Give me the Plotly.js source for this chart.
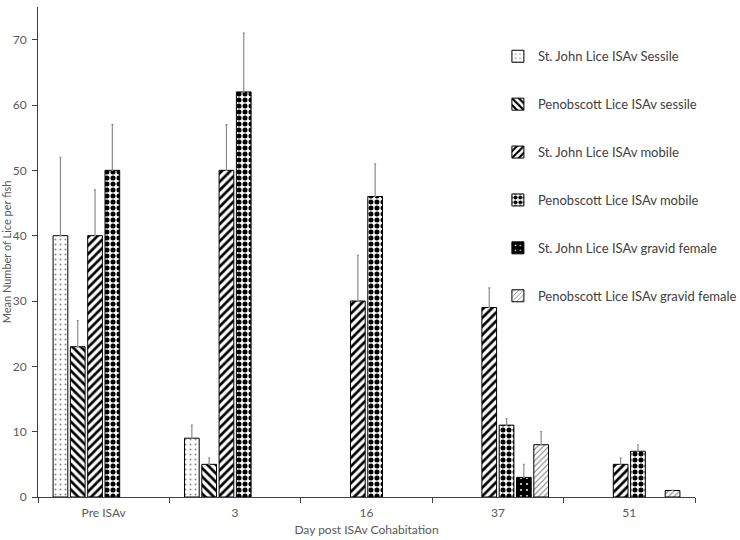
<!DOCTYPE html>
<html>
<head>
<meta charset="utf-8">
<script src="https://cdn.plot.ly/plotly-3.0.1.min.js"></script>
<style>html,body{margin:0;padding:0;background:#fff;}#chart{width:740px;height:540px;}</style>
</head>
<body>
<div id="chart"></div>
<script>
const categories = ["Pre ISAv", "3", "16", "37", "51"];
const seriesNames = [
  "St. John Lice ISAv Sessile",
  "Penobscott Lice ISAv sessile",
  "St. John Lice ISAv mobile",
  "Penobscott Lice ISAv mobile",
  "St. John Lice ISAv gravid female",
  "Penobscott Lice ISAv gravid female"
];
const stJohnSessile = [40, 9, null, null, null];
const penobSessile = [23, 5, null, null, null];
const stJohnMobile = [40, 50, 30, 29, 5];
const penobMobile = [50, 62, 46, 11, 7];
const stJohnGravid = [null, null, null, 3, null];
const penobGravid = [null, null, null, 8, 1];

const errStJohnSessile = [12, 2, null, null, null];
const errPenobSessile = [4, 1, null, null, null];
const errStJohnMobile = [7, 7, 7, 3, 1];
const errPenobMobile = [7, 9, 5, 1, 1];
const errStJohnGravid = [null, null, null, 2, null];
const errPenobGravid = [null, null, null, 2, 0];

const values = [stJohnSessile, penobSessile, stJohnMobile, penobMobile, stJohnGravid, penobGravid];
const errors = [errStJohnSessile, errPenobSessile, errStJohnMobile, errPenobMobile, errStJohnGravid, errPenobGravid];

const patterns = [
  {shape: ".", fgcolor: "#8a8a8a", bgcolor: "#ffffff", size: 5, solidity: 0.12, fillmode: "replace"},
  {shape: "\\", fgcolor: "#000000", bgcolor: "#ffffff", size: 6, solidity: 0.45, fillmode: "replace"},
  {shape: "/", fgcolor: "#000000", bgcolor: "#ffffff", size: 6, solidity: 0.45, fillmode: "replace"},
  {shape: ".", fgcolor: "#000000", bgcolor: "#ffffff", size: 6, solidity: 0.55, fillmode: "replace"},
  {shape: ".", fgcolor: "#ffffff", bgcolor: "#000000", size: 6, solidity: 0.08, fillmode: "replace"},
  {shape: "/", fgcolor: "#7a7a7a", bgcolor: "#ffffff", size: 4, solidity: 0.25, fillmode: "replace"}
];

const traces = seriesNames.map((name, i) => ({
  type: "bar",
  name: name,
  x: categories,
  y: values[i],
  legendgroup: "g" + i,
  marker: {
    color: patterns[i].bgcolor,
    line: {color: "#000000", width: 1},
    pattern: patterns[i]
  },
  error_y: {
    type: "data",
    symmetric: false,
    array: errors[i],
    arrayminus: errors[i].map(() => 0),
    color: "#8c8c8c",
    thickness: 1.2,
    width: 1
  },
  hoverinfo: "skip"
}));

const layout = {
  width: 740,
  height: 540,
  margin: {l: 38, r: 45, t: 7, b: 43, autoexpand: false},
  paper_bgcolor: "#ffffff",
  plot_bgcolor: "#ffffff",
  font: {family: "Lato, 'Open Sans', sans-serif", size: 12, color: "#595959"},
  barmode: "group",
  bargap: 0.21,
  bargroupgap: 0.15,
  showlegend: true,
  legend: {
    x: 0.7, xanchor: "left",
    y: 0.93, yanchor: "top",
    font: {size: 13, color: "#404040"},
    tracegroupgap: 28,
    itemwidth: 30,
    bgcolor: "rgba(0,0,0,0)"
  },
  xaxis: {
    type: "category",
    range: [-0.5, 4.5],
    showline: true,
    linecolor: "#404040",
    linewidth: 1,
    ticks: "outside",
    tickson: "boundaries",
    ticklen: 5,
    tickcolor: "#404040",
    showgrid: false,
    zeroline: false,
    ticklabelstandoff: 5,
    tickfont: {size: 12, color: "#595959"},
    title: {text: "Day post ISAv Cohabitation", font: {size: 12, color: "#595959"}, standoff: 6}
  },
  yaxis: {
    range: [0, 75],
    tickvals: [0, 10, 20, 30, 40, 50, 60, 70],
    showline: true,
    linecolor: "#404040",
    linewidth: 1,
    ticks: "outside",
    ticklen: 5,
    tickcolor: "#404040",
    showgrid: false,
    zeroline: false,
    ticklabelstandoff: 3,
    tickfont: {size: 12, color: "#595959"},
    title: {text: "Mean Number of Lice per fish", font: {size: 11, color: "#595959"}, standoff: 4}
  }
};

Plotly.newPlot("chart", traces, layout, {displayModeBar: false, staticPlot: true});
</script>
</body>
</html>
